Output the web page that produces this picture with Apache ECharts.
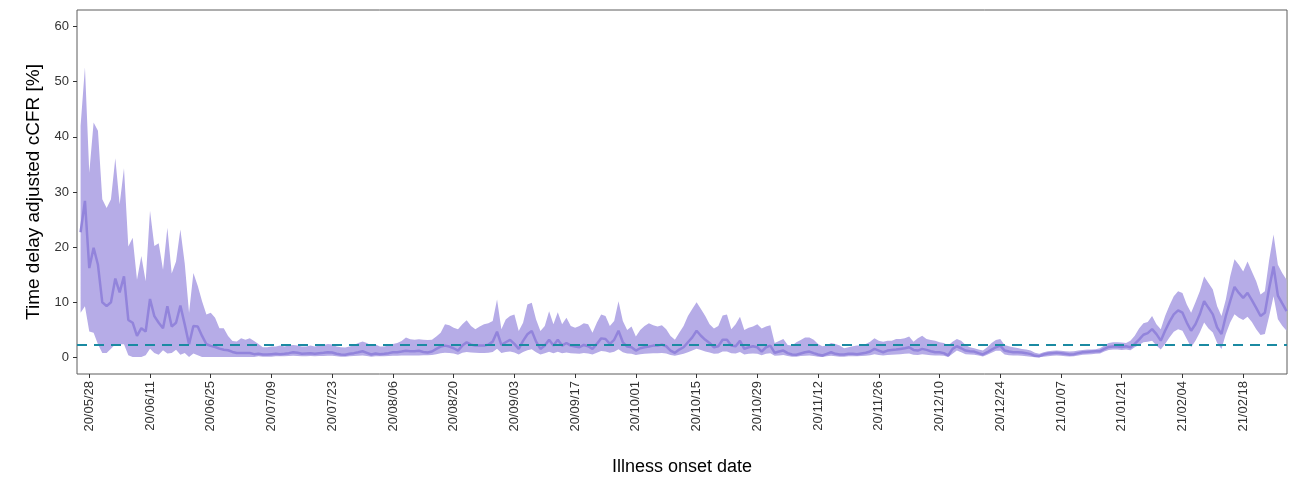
<!DOCTYPE html>
<html>
<head>
<meta charset="utf-8">
<script src="https://cdn.jsdelivr.net/npm/echarts@6/dist/echarts.min.js"></script>
<style>
  html, body { margin: 0; padding: 0; background: #ffffff; }
  #chart { width: 1295px; height: 481px; }
</style>
</head>
<body>
<div id="chart"></div>
<script>
// Daily time-delay adjusted cCFR (%) by illness onset date, with its 95% interval.
const firstDay = '2020-05-26';

const estimate = [
  22.7, 28.4, 16.2, 19.9, 16.8, 10.0, 9.3, 10.0, 14.3, 11.8, 14.7, 6.8, 6.3, 3.9, 5.3, 4.7, 10.6, 7.5, 6.3, 5.3,
  9.3, 5.6, 6.3, 9.4, 6.0, 2.4, 5.7, 5.6, 3.9, 2.4, 2.1, 1.9, 1.6, 1.4, 1.3, 1.0, 0.8, 0.8, 0.8, 0.8, 0.6,
  0.66, 0.54, 0.54, 0.6, 0.66, 0.6, 0.66, 0.78, 0.95, 0.84, 0.66, 0.72, 0.78, 0.66, 0.78, 0.84, 0.95, 0.9, 0.66, 0.54,
  0.48, 0.66, 0.78, 0.95, 1.13, 0.84, 0.54, 0.72, 0.6, 0.66, 0.78, 0.95, 0.95, 1.07, 1.2, 1.13, 1.13, 1.2, 1.0, 0.9,
  1.07, 1.55, 1.97, 2.15, 1.97, 1.67, 1.25, 2.15, 2.75, 2.33, 2.15, 2.15, 2.15, 2.33, 2.87, 4.66, 2.27, 2.75, 3.2, 2.45,
  1.55, 3.0, 4.2, 4.8, 2.87, 1.55, 2.15, 3.2, 2.15, 3.2, 2.15, 2.63, 2.15, 1.97, 1.85, 2.27, 2.03, 1.55, 2.45, 3.46,
  3.34, 2.45, 3.2, 4.84, 2.75, 1.97, 1.85, 1.25, 1.67, 1.85, 1.97, 2.15, 2.15, 2.33, 2.03, 1.25, 0.84, 1.43, 1.85, 2.75,
  3.64, 4.84, 3.94, 3.2, 2.63, 1.85, 2.03, 3.2, 3.2, 2.15, 2.03, 3.0, 1.55, 1.85, 2.03, 1.85, 1.07, 1.85, 2.15, 0.84,
  1.07, 1.25, 0.78, 0.54, 0.48, 0.72, 0.95, 1.07, 0.78, 0.54, 0.36, 0.66, 0.95, 0.66, 0.54, 0.54, 0.66, 0.66, 0.6, 0.72,
  0.84, 1.07, 1.55, 1.25, 0.95, 1.25, 1.37, 1.43, 1.55, 1.67, 1.85, 1.37, 1.25, 1.55, 1.37, 1.13, 0.95, 0.95, 0.78, 0.36,
  1.55, 2.03, 1.67, 1.25, 1.13, 1.07, 0.78, 0.54, 0.95, 1.43, 1.85, 2.15, 1.25, 1.07, 0.95, 0.95, 0.9, 0.78, 0.6, 0.3,
  0.24, 0.54, 0.72, 0.78, 0.84, 0.78, 0.66, 0.54, 0.6, 0.78, 0.95, 1.01, 1.07, 1.13, 1.13, 1.55, 1.91, 1.97, 1.97, 1.91, 2.03,
  1.85, 2.45, 3.22, 4.12, 4.42, 5.13, 4.24, 3.04, 4.84, 6.45, 7.82, 8.54, 8.12, 6.33, 4.84, 6.03, 7.82, 10.2, 9.0, 7.82,
  5.43, 4.24, 7.52, 10.2, 12.78, 11.7, 10.8, 11.7, 10.4, 9.0, 7.52, 8.12, 12.6, 16.5, 11.2, 9.8, 8.42
];

const upper = [
  42.0, 52.6, 33.5, 42.6, 41.1, 28.7, 27.1, 28.7, 36.1, 27.8, 34.3, 20.1, 21.7, 14.1, 18.4, 13.8, 26.6, 20.2, 20.7, 15.9,
  23.5, 15.2, 17.4, 23.2, 17.1, 8.1, 15.3, 13.0, 10.2, 7.8, 8.1, 7.2, 5.3, 5.3, 3.9, 3.0, 2.9, 3.5, 3.2, 3.5, 3.0,
  2.45, 1.85, 1.85, 1.97, 2.0, 2.15, 2.0, 2.15, 2.27, 2.15, 1.97, 2.0, 2.15, 2.0, 2.15, 2.27, 2.45, 2.33, 2.0, 1.85,
  1.8, 2.0, 2.27, 2.6, 2.9, 2.6, 2.15, 2.33, 2.0, 1.97, 2.15, 2.45, 2.6, 3.0, 3.6, 3.3, 3.2, 3.3, 3.2, 3.15,
  3.2, 3.8, 4.5, 6.0, 5.85, 5.4, 5.1, 6.0, 6.75, 5.7, 5.1, 5.6, 6.0, 6.2, 6.6, 10.5, 5.1, 6.9, 7.5, 7.8,
  4.8, 6.3, 9.6, 9.9, 6.9, 4.8, 5.7, 8.4, 6.0, 8.2, 6.0, 7.2, 5.7, 5.4, 5.7, 6.2, 6.0, 4.5, 6.3, 7.8,
  7.5, 5.7, 6.6, 10.2, 6.6, 5.0, 5.6, 3.8, 5.0, 5.7, 6.2, 5.85, 5.6, 5.85, 5.1, 3.9, 3.2, 4.5, 5.7, 7.5,
  8.8, 10.0, 8.8, 7.5, 6.0, 5.25, 5.7, 7.6, 7.8, 5.1, 6.0, 7.4, 5.0, 5.4, 5.6, 6.0, 5.25, 5.6, 5.85, 2.6,
  3.0, 3.34, 2.27, 2.15, 2.75, 3.16, 3.64, 3.64, 3.22, 2.45, 2.03, 2.15, 2.63, 2.45, 2.15, 1.67, 1.85, 2.03, 2.15, 2.15,
  2.45, 2.87, 3.46, 3.04, 2.87, 3.04, 3.04, 3.34, 3.34, 3.46, 3.82, 2.87, 3.46, 3.94, 3.34, 3.16, 3.04, 2.75, 2.63, 2.15,
  2.87, 3.34, 3.04, 2.27, 1.85, 1.67, 1.43, 1.25, 1.85, 2.63, 3.16, 3.34, 2.27, 2.03, 1.85, 1.73, 1.55, 1.43, 1.25, 0.84,
  0.66, 0.95, 1.13, 1.2, 1.25, 1.2, 1.13, 1.07, 1.13, 1.25, 1.37, 1.43, 1.43, 1.49, 1.67, 2.15, 2.63, 2.75, 2.75, 2.69, 2.63,
  3.04, 3.94, 5.25, 6.2, 6.45, 7.52, 6.03, 5.13, 7.52, 9.43, 11.1, 12.0, 11.7, 9.6, 8.12, 10.0, 12.0, 14.7, 13.5, 12.3,
  9.3, 7.52, 10.5, 14.7, 17.8, 16.8, 15.6, 17.4, 15.6, 13.8, 11.4, 12.0, 17.7, 22.3, 16.8, 15.3, 14.1
];

const lower = [
  8.1, 9.3, 4.7, 4.5, 2.4, 0.8, 0.8, 1.6, 2.4, 2.4, 2.4, 0.4, 0.1, 0.1, 0.1, 0.4, 1.6, 0.8, 0.5, 1.3,
  0.7, 0.8, 1.4, 0.5, 0.8, 0.1, 0.7, 0.4, 0.1, 0.1, 0.1, 0.1, 0.1, 0.1, 0.1, 0.1, 0.1, 0.1, 0.1, 0.1, 0.1,
  0.2, 0.15, 0.15, 0.15, 0.2, 0.2, 0.2, 0.25, 0.3, 0.25, 0.2, 0.2, 0.25, 0.2, 0.25, 0.25, 0.3, 0.3, 0.2, 0.15,
  0.15, 0.2, 0.25, 0.3, 0.35, 0.25, 0.15, 0.2, 0.2, 0.2, 0.25, 0.3, 0.3, 0.35, 0.35, 0.35, 0.35, 0.35, 0.4, 0.4,
  0.45, 0.6, 0.75, 0.85, 0.8, 0.7, 0.5, 0.85, 1.0, 0.9, 0.85, 0.8, 0.8, 0.85, 1.0, 1.6, 0.8, 1.0, 1.1, 0.9,
  0.55, 1.0, 1.3, 1.5, 0.95, 0.55, 0.75, 1.05, 0.75, 1.05, 0.75, 0.9, 0.75, 0.7, 0.65, 0.8, 0.7, 0.55, 0.85, 1.15,
  1.1, 0.85, 1.05, 1.5, 0.95, 0.7, 0.65, 0.45, 0.6, 0.65, 0.7, 0.75, 0.75, 0.8, 0.7, 0.45, 0.3, 0.5, 0.65, 0.95,
  1.25, 1.6, 1.35, 1.1, 0.9, 0.65, 0.7, 1.1, 1.1, 0.75, 0.7, 1.0, 0.55, 0.65, 0.7, 0.65, 0.4, 0.65, 0.75, 0.3,
  0.35, 0.45, 0.25, 0.15, 0.15, 0.25, 0.3, 0.35, 0.25, 0.15, 0.1, 0.2, 0.3, 0.2, 0.15, 0.15, 0.2, 0.2, 0.2, 0.25,
  0.3, 0.4, 0.6, 0.45, 0.35, 0.45, 0.5, 0.55, 0.6, 0.65, 0.7, 0.5, 0.45, 0.6, 0.5, 0.4, 0.35, 0.35, 0.3, 0.1,
  0.66, 1.25, 0.95, 0.6, 0.54, 0.48, 0.36, 0.18, 0.48, 0.84, 1.2, 1.2, 0.54, 0.42, 0.36, 0.36, 0.3, 0.24, 0.12, 0.05,
  0.02, 0.12, 0.24, 0.3, 0.36, 0.3, 0.24, 0.18, 0.24, 0.36, 0.48, 0.54, 0.6, 0.66, 0.72, 1.07, 1.37, 1.43, 1.43, 1.37, 1.43,
  1.3, 1.85, 2.27, 2.75, 2.87, 3.04, 2.15, 1.43, 2.45, 3.64, 4.66, 5.13, 4.84, 3.34, 1.85, 3.04, 4.54, 6.33, 5.25, 4.54,
  2.63, 1.55, 4.24, 6.33, 7.82, 7.22, 6.81, 7.4, 6.45, 5.13, 4.06, 4.24, 7.52, 11.1, 6.93, 5.73, 4.84
];

// Date ticks, every two weeks (yy/mm/dd)
const dateTicks = [
  '20/05/28', '20/06/11', '20/06/25', '20/07/09', '20/07/23', '20/08/06', '20/08/20',
  '20/09/03', '20/09/17', '20/10/01', '20/10/15', '20/10/29', '20/11/12', '20/11/26',
  '20/12/10', '20/12/24', '21/01/07', '21/01/21', '21/02/04', '21/02/18'
];
const yTicks = [0, 10, 20, 30, 40, 50, 60];

// Overall crude CFR reference level (%)
const referenceLevel = 2.36;

const DAY = 86400000;
const t0 = Date.parse(firstDay + 'T00:00:00Z');
const dates = estimate.map((_, i) => t0 + i * DAY);

const tickTime = dateTicks.map(s => {
  const [yy, mm, dd] = s.split('/').map(Number);
  return Date.UTC(2000 + yy, mm - 1, dd);
});
const tickLabelByTime = {};
tickTime.forEach((t, i) => { tickLabelByTime[t] = dateTicks[i]; });

const FONT = '"Liberation Sans", Arial, sans-serif';
const BAND = '#b6ace7';
const LINE = '#9284db';
const REF = '#1b8aa2';

// Interval ribbon: upper bound left to right, then lower bound back.
function renderRibbon(params, api) {
  const pts = [];
  for (let i = 0; i < dates.length; i++) pts.push(api.coord([dates[i], upper[i]]));
  for (let i = dates.length - 1; i >= 0; i--) pts.push(api.coord([dates[i], lower[i]]));
  return {
    type: 'polygon',
    shape: { points: pts },
    style: { fill: BAND, stroke: null },
    silent: true
  };
}

const chart = echarts.init(document.getElementById('chart'), null, { renderer: 'canvas' });

chart.setOption({
  animation: false,
  backgroundColor: '#ffffff',
  grid: {
    left: 77, right: 8, top: 10, bottom: 103,
    show: true, borderColor: '#5c5c5c', borderWidth: 1, backgroundColor: 'transparent'
  },
  xAxis: {
    type: 'value',
    min: t0 - 0.83 * DAY,
    max: t0 + 278.1 * DAY,
    name: 'Illness onset date',
    nameLocation: 'middle',
    nameGap: 84,
    nameTextStyle: { fontFamily: FONT, fontSize: 18, color: '#000000' },
    axisLine: { show: false, onZero: false },
    axisTick: {
      show: true, length: 4, customValues: tickTime,
      lineStyle: { color: '#333333', width: 1 }
    },
    axisLabel: {
      customValues: tickTime,
      rotate: 90,
      margin: 7,
      fontFamily: FONT, fontSize: 13, color: '#333333',
      formatter: v => tickLabelByTime[v] || ''
    },
    splitLine: { show: false }
  },
  yAxis: {
    type: 'value',
    min: -3,
    max: 63,
    name: 'Time delay adjusted cCFR [%]',
    nameLocation: 'middle',
    nameGap: 21,
    nameRotate: 90,
    nameTextStyle: { fontFamily: FONT, fontSize: 19, color: '#000000' },
    axisLine: { show: false, onZero: false },
    axisTick: {
      show: true, length: 4, customValues: yTicks,
      lineStyle: { color: '#333333', width: 1 }
    },
    axisLabel: {
      customValues: yTicks,
      margin: 8,
      fontFamily: FONT, fontSize: 13, color: '#333333'
    },
    splitLine: { show: false }
  },
  series: [
    {
      name: 'interval',
      type: 'custom',
      renderItem: renderRibbon,
      data: [[dates[0], lower[0]]],
      clip: true,
      silent: true,
      z: 1
    },
    {
      name: 'cCFR',
      type: 'line',
      data: dates.map((d, i) => [d, estimate[i]]),
      symbol: 'none',
      lineStyle: { color: LINE, width: 2.5 },
      z: 3,
      markLine: {
        silent: true,
        symbol: ['none', 'none'],
        label: { show: false },
        lineStyle: { color: REF, width: 2, type: [10, 7] },
        data: [{ yAxis: referenceLevel }]
      }
    }
  ]
});
</script>
</body>
</html>
